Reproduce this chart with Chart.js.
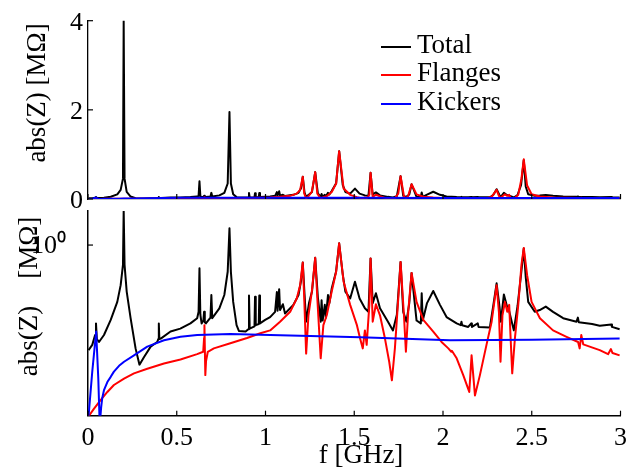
<!DOCTYPE html>
<html><head><meta charset="utf-8">
<script src="https://cdn.jsdelivr.net/npm/chart.js@4.4.0/dist/chart.umd.min.js"></script>
<style>
html,body{margin:0;padding:0;background:#fff;}
#wrap{position:relative;width:638px;height:473px;overflow:hidden;font-family:'Liberation Serif',serif;background:#fff;}
#c1{position:absolute;left:0;top:0;}
#c2{position:absolute;left:0;top:205px;}
#legend{position:absolute;left:381px;top:30px;font-size:27px;line-height:28.3px;color:#000;}
.row{position:relative;height:28.3px;padding-left:36px;white-space:nowrap;}
.row i{position:absolute;left:0;top:16px;width:30px;height:2px;}
</style></head>
<body><div id="wrap">
<canvas id="c1" width="638" height="215" style="width:638px;height:215px"></canvas>
<canvas id="c2" width="638" height="268" style="width:638px;height:268px"></canvas>
<div id="legend">
<div class="row"><i style="background:#000"></i>Total</div>
<div class="row"><i style="background:#ff0000"></i>Flanges</div>
<div class="row"><i style="background:#0000ff"></i>Kickers</div>
</div>
</div>
<script>
// ---- data (f in GHz, abs(Z) in MOhm) ----
const freqTotal = [0.003,0.024,0.040,0.045,0.050,0.062,0.090,0.128,0.165,0.184,0.197,0.201,0.206,0.218,0.240,0.268,0.290,0.315,0.353,0.390,0.396,0.399,0.402,0.410,0.465,0.520,0.577,0.615,0.623,0.628,0.633,0.640,0.650,0.654,0.658,0.664,0.690,0.695,0.700,0.740,0.768,0.787,0.797,0.805,0.818,0.837,0.850,0.888,0.903,0.907,0.911,0.938,0.941,0.945,0.962,0.965,0.969,0.998,1.026,1.054,1.064,1.068,1.077,1.082,1.098,1.110,1.157,1.186,1.200,1.210,1.220,1.229,1.245,1.262,1.280,1.295,1.311,1.316,1.322,1.334,1.340,1.352,1.360,1.373,1.398,1.415,1.435,1.450,1.477,1.504,1.530,1.560,1.580,1.592,1.604,1.622,1.645,1.690,1.718,1.740,1.761,1.776,1.794,1.810,1.823,1.851,1.875,1.880,1.886,1.910,1.945,1.983,2.020,2.077,2.100,2.104,2.108,2.142,2.159,2.163,2.196,2.200,2.264,2.283,2.302,2.318,2.326,2.343,2.360,2.370,2.399,2.420,2.440,2.455,2.466,2.480,2.517,2.545,2.579,2.620,2.677,2.752,2.760,2.765,2.840,2.883,2.948,2.952,2.995];
const zTotal = [0.0155,0.0191,0.0282,0.0447,0.0240,0.0214,0.0282,0.0513,0.105,0.204,0.457,4.0,0.457,0.158,0.0550,0.0166,0.00871,0.0117,0.0178,0.0214,0.0240,0.0447,0.0240,0.0245,0.0324,0.0363,0.0447,0.0550,0.0708,0.398,0.0631,0.0447,0.0501,0.0708,0.0468,0.0447,0.0562,0.138,0.0550,0.0813,0.138,0.347,1.95,0.347,0.105,0.0417,0.0331,0.0324,0.0355,0.135,0.0363,0.0398,0.129,0.0417,0.0437,0.135,0.0447,0.0513,0.0575,0.0708,0.155,0.0741,0.174,0.0759,0.0955,0.0661,0.0933,0.138,0.240,0.501,0.141,0.0479,0.100,0.158,0.603,0.126,0.0479,0.112,0.0501,0.0933,0.0562,0.138,0.100,0.178,0.355,1.072,0.316,0.158,0.120,0.234,0.120,0.0813,0.0708,0.589,0.100,0.148,0.0813,0.0479,0.0339,0.0631,0.513,0.0708,0.0479,0.100,0.331,0.0501,0.0447,0.148,0.0501,0.100,0.162,0.0933,0.0575,0.0447,0.0417,0.0479,0.0417,0.0389,0.0447,0.0389,0.0447,0.0389,0.0380,0.0891,0.219,0.0891,0.0479,0.141,0.0891,0.0794,0.0339,0.0891,0.316,0.871,0.282,0.105,0.0708,0.0759,0.0871,0.0708,0.0550,0.0479,0.0562,0.0468,0.0437,0.0407,0.0427,0.0389,0.0355];

const freqFlanges = [0.003,0.033,0.071,0.109,0.146,0.203,0.259,0.334,0.428,0.521,0.615,0.649,0.654,0.656,0.661,0.665,0.675,0.709,0.802,0.896,0.971,1.026,1.082,1.139,1.176,1.195,1.210,1.218,1.229,1.242,1.261,1.280,1.292,1.311,1.326,1.345,1.373,1.398,1.415,1.440,1.477,1.515,1.533,1.548,1.560,1.570,1.585,1.592,1.604,1.622,1.645,1.673,1.697,1.712,1.729,1.748,1.761,1.780,1.791,1.804,1.823,1.851,1.889,1.945,1.992,2.030,2.047,2.050,2.077,2.114,2.148,2.161,2.180,2.208,2.245,2.274,2.302,2.315,2.324,2.335,2.349,2.362,2.373,2.381,2.390,2.405,2.424,2.442,2.455,2.474,2.499,2.546,2.620,2.696,2.761,2.770,2.779,2.790,2.883,2.930,2.946,2.955,2.995];
const zFlanges = [0.00112,0.00151,0.00214,0.00295,0.00389,0.00501,0.00617,0.00741,0.00912,0.0107,0.0132,0.0145,0.0251,0.0417,0.00575,0.0100,0.0145,0.0166,0.0204,0.0251,0.0302,0.0339,0.0479,0.0708,0.120,0.204,0.501,0.126,0.0135,0.0617,0.158,0.603,0.120,0.0112,0.0417,0.0617,0.158,0.347,1.072,0.234,0.0933,0.0417,0.0245,0.0166,0.0339,0.0191,0.0933,0.589,0.0479,0.0955,0.0617,0.0245,0.00977,0.00468,0.0166,0.120,0.513,0.0617,0.0145,0.0708,0.331,0.105,0.0513,0.0324,0.0214,0.0166,0.0145,0.0151,0.0112,0.00575,0.00295,0.0126,0.00257,0.00575,0.0191,0.0479,0.204,0.0708,0.00977,0.0617,0.105,0.0708,0.0933,0.0245,0.00617,0.0245,0.0933,0.457,0.891,0.302,0.105,0.0550,0.0339,0.0263,0.0214,0.0166,0.0282,0.0195,0.0155,0.0132,0.0162,0.0138,0.0126];

const freqKickers = [0.003,0.024,0.046,0.058,0.066,0.074,0.080,0.090,0.109,0.128,0.146,0.175,0.203,0.259,0.334,0.428,0.521,0.615,0.802,1.027,1.533,2.039,2.500,2.995];
const zKickers = [0.00112,0.00661,0.0324,0.00501,0.00079,0.00158,0.00229,0.00316,0.00437,0.00537,0.00661,0.00832,0.00977,0.0126,0.0178,0.0229,0.0263,0.0282,0.0295,0.0282,0.0257,0.0229,0.0234,0.0245];

const xTicks = [0,0.5,1,1.5,2,2.5,3];
const topYTicks = [0,2,4];
const logYTicks = [1];
const logYLabels = ['10\u2070'];

// ---- helpers ----
const pts = (fs, zs) => fs.map((f, i) => ({x: f, y: zs[i]}));
const FONT = 'Liberation Serif';
const NB = '\u00a0';

const innerTicks = {
  id: 'innerTicks',
  afterDatasetsDraw(chart) {
    const ctx = chart.ctx, a = chart.chartArea;
    ctx.save();
    ctx.strokeStyle = '#000';
    ctx.lineWidth = 1.2;
    for (const s of Object.values(chart.scales)) {
      for (const t of s.ticks) {
        const p = s.getPixelForValue(t.value);
        ctx.beginPath();
        if (s.isHorizontal()) { ctx.moveTo(p, a.bottom); ctx.lineTo(p, a.bottom - 5); }
        else { ctx.moveTo(a.left, p); ctx.lineTo(a.left + 5, p); }
        ctx.stroke();
      }
    }
    ctx.restore();
  }
};

function datasets() {
  return [
    {label: 'Total', data: pts(freqTotal, zTotal), borderColor: '#000000', order: 2},
    {label: 'Flanges', data: pts(freqFlanges, zFlanges), borderColor: '#ff0000', order: 1},
    {label: 'Kickers', data: pts(freqKickers, zKickers), borderColor: '#0000ff', order: 0}
  ].map(d => Object.assign(d, {borderWidth: 2, pointRadius: 0, tension: 0, fill: false}));
}

const common = {
  responsive: false,
  animation: false,
  plugins: {legend: {display: false}, tooltip: {enabled: false}},
  elements: {line: {borderJoinStyle: 'round'}}
};

const fixY = s => { s.width = 88; s.paddingTop = 0; s.paddingBottom = 0; };

// ---- top panel (linear) ----
new Chart(document.getElementById('c1'), {
  type: 'line',
  data: {datasets: datasets()},
  plugins: [innerTicks],
  options: Object.assign({}, common, {
    layout: {padding: {left: 0, right: 17.5, top: 20.7, bottom: 0}},
    scales: {
      x: {
        type: 'linear', min: 0, max: 3,
        afterBuildTicks: s => { s.ticks = xTicks.map(v => ({value: v})); },
        ticks: {display: false},
        grid: {display: false, drawTicks: false},
        border: {display: true, color: '#000', width: 1.2},
        afterFit: s => { s.height = 16; s.paddingLeft = 0; s.paddingRight = 0; }
      },
      y: {
        type: 'linear', min: 0, max: 4,
        afterBuildTicks: s => { s.ticks = topYTicks.map(v => ({value: v})); },
        ticks: {font: {family: FONT, size: 26}, color: '#000', padding: 5, labelOffset: 2},
        grid: {display: false, drawTicks: false},
        border: {display: true, color: '#000', width: 1.3},
        title: {display: true, text: NB.repeat(5) + 'abs(Z) [M\u03a9]', color: '#000',
                font: {family: FONT, size: 27}, padding: {top: 22, bottom: 0}},
        afterFit: fixY
      }
    }
  })
});

// ---- bottom panel (log) ----
new Chart(document.getElementById('c2'), {
  type: 'line',
  data: {datasets: datasets()},
  plugins: [innerTicks],
  options: Object.assign({}, common, {
    layout: {padding: {left: 0, right: 17.5, top: 6, bottom: 0}},
    scales: {
      x: {
        type: 'linear', min: 0, max: 3,
        afterBuildTicks: s => { s.ticks = xTicks.map(v => ({value: v})); },
        ticks: {font: {family: FONT, size: 26}, color: '#000', padding: 7, maxRotation: 0,
                callback: v => String(v)},
        grid: {display: false, drawTicks: false},
        border: {display: true, color: '#000', width: 1.5},
        title: {display: true, text: NB + NB + 'f [GHz]', color: '#000',
                font: {family: FONT, size: 27}, padding: {top: 0, bottom: 1}},
        afterFit: s => { s.height = 57.3; }
      },
      y: {
        type: 'logarithmic', min: 0.00115, max: 3.86,
        afterBuildTicks: s => { s.ticks = logYTicks.map(v => ({value: v})); },
        ticks: {font: {family: FONT, size: 26}, color: '#000', padding: 22, labelOffset: 1,
                callback: (v, i) => logYLabels[i]},
        grid: {display: false, drawTicks: false},
        border: {display: true, color: '#000', width: 1.5},
        title: {display: true, text: NB.repeat(5) + 'abs(Z)' + NB.repeat(4) + '[M\u03a9]', color: '#000',
                font: {family: FONT, size: 27}, padding: {top: 14, bottom: 0}},
        afterFit: fixY
      }
    }
  })
});
</script>
</body></html>
